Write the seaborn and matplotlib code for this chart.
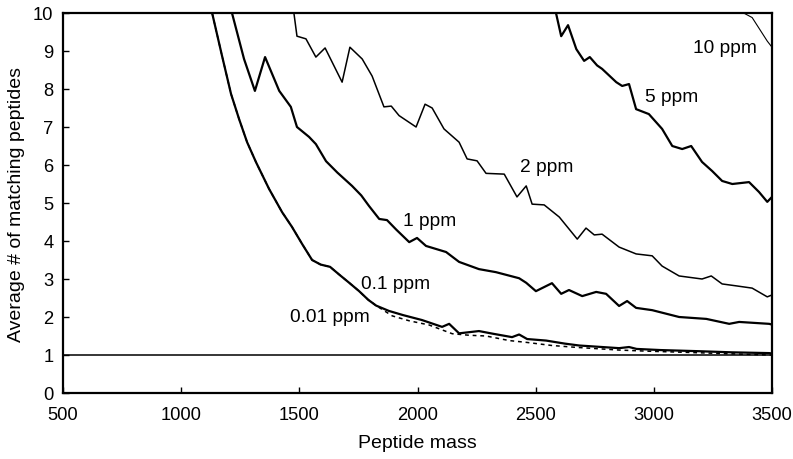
import matplotlib
matplotlib.use("Agg")
import matplotlib.pyplot as plt
import seaborn as sns
import pandas as pd

# ---- data ----
mass_01 = [1131, 1173, 1211, 1245, 1279, 1317, 1372, 1427, 1469, 1512, 1554, 1590, 1630, 1668, 1711,
           1753, 1792, 1825, 1879, 1939, 2019, 2104, 2134, 2176, 2260, 2319, 2400, 2430, 2464, 2544,
           2623, 2684, 2853, 2895, 2927, 3028, 3191, 3332, 3488, 3500]
avg_01 = [10, 8.87, 7.87, 7.21, 6.6, 6.07, 5.37, 4.76, 4.37, 3.92, 3.5, 3.38, 3.32, 3.12, 2.9,
          2.68, 2.45, 2.3, 2.16, 2.05, 1.92, 1.74, 1.82, 1.57, 1.63, 1.56, 1.47, 1.54, 1.42, 1.38,
          1.3, 1.25, 1.18, 1.21, 1.16, 1.13, 1.1, 1.07, 1.05, 1.04]

mass_001 = [1131, 1173, 1211, 1245, 1279, 1317, 1372, 1427, 1469, 1512, 1554, 1590, 1630, 1668, 1711,
            1753, 1792, 1825, 1893, 1965, 2049, 2147, 2218, 2290, 2388, 2464, 2569, 2674, 2853, 2977,
            3136, 3332, 3488, 3500]
avg_001 = [10, 8.87, 7.87, 7.21, 6.6, 6.07, 5.37, 4.76, 4.37, 3.92, 3.5, 3.38, 3.32, 3.12, 2.9,
           2.68, 2.45, 2.3, 2.03, 1.9, 1.79, 1.56, 1.52, 1.5, 1.38, 1.33, 1.25, 1.2, 1.13, 1.1,
           1.07, 1.03, 1.0, 1.0]

mass_1 = [1215, 1266, 1312, 1355, 1415, 1464, 1490, 1541, 1570, 1613, 1661, 1723, 1762, 1795, 1838,
          1871, 1910, 1965, 1998, 2036, 2121, 2176, 2260, 2332, 2430, 2460, 2501, 2569, 2608, 2641,
          2697, 2756, 2798, 2853, 2887, 2925, 2993, 3107, 3222, 3319, 3361, 3488, 3500]
avg_1 = [10, 8.79, 7.95, 8.84, 7.95, 7.53, 7.0, 6.74, 6.55, 6.1, 5.8, 5.45, 5.2, 4.92, 4.58,
         4.55, 4.3, 3.97, 4.08, 3.87, 3.71, 3.45, 3.26, 3.18, 3.02, 2.9, 2.68, 2.89, 2.61, 2.71,
         2.55, 2.66, 2.61, 2.29, 2.42, 2.24, 2.18, 2.0, 1.95, 1.82, 1.87, 1.82, 1.8]

mass_2 = [1477, 1490, 1528, 1570, 1609, 1681, 1714, 1766, 1808, 1858, 1889, 1922, 1994, 2032, 2062,
          2112, 2176, 2210, 2252, 2290, 2367, 2421, 2460, 2485, 2536, 2600, 2676, 2713, 2748, 2781,
          2853, 2925, 2993, 3035, 3107, 3204, 3243, 3289, 3348, 3416, 3480, 3500]
avg_2 = [10, 9.39, 9.32, 8.84, 9.08, 8.18, 9.1, 8.79, 8.34, 7.53, 7.55, 7.3, 7.0, 7.6, 7.5,
         6.95, 6.6, 6.16, 6.11, 5.78, 5.76, 5.16, 5.45, 4.97, 4.95, 4.63, 4.05, 4.34, 4.16, 4.18,
         3.84, 3.66, 3.61, 3.34, 3.08, 3.0, 3.08, 2.87, 2.82, 2.76, 2.53, 2.58]

mass_5 = [2586, 2608, 2637, 2672, 2705, 2729, 2760, 2781, 2841, 2866, 2895, 2925, 2979, 3035, 3078,
          3120, 3158, 3204, 3247, 3289, 3332, 3403, 3445, 3480, 3500]
avg_5 = [10, 9.39, 9.68, 9.05, 8.74, 8.84, 8.62, 8.53, 8.18, 8.08, 8.13, 7.47, 7.34, 6.95, 6.5,
         6.42, 6.5, 6.08, 5.84, 5.58, 5.5, 5.55, 5.29, 5.03, 5.16]

mass_10 = [3380, 3416, 3480, 3500]
avg_10 = [10, 9.88, 9.26, 9.1]

labels = ["0.01 ppm", "0.1 ppm", "1 ppm", "2 ppm", "5 ppm", "10 ppm"]
x_ticks = [500, 1000, 1500, 2000, 2500, 3000, 3500]
y_ticks = list(range(0, 11))

# ---- plotting ----
sns.set_theme(style="ticks")
plt.rcParams["font.family"] = ["Liberation Sans", "DejaVu Sans"]
plt.rcParams["text.color"] = "black"
plt.rcParams["axes.labelcolor"] = "black"
plt.rcParams["xtick.color"] = "black"
plt.rcParams["ytick.color"] = "black"

fig = plt.figure(figsize=(7.93, 4.60), dpi=100)
ax = fig.add_axes([63 / 793, 1 - 394 / 460, (772 - 63) / 793, (394 - 14) / 460])

series = [
    (mass_01, avg_01, 1.6),
    (mass_1, avg_1, 1.6),
    (mass_2, avg_2, 1.1),
    (mass_5, avg_5, 1.6),
    (mass_10, avg_10, 0.8),
]
for xs, ys, lw in series:
    df = pd.DataFrame({"mass": xs, "avg": ys})
    sns.lineplot(data=df, x="mass", y="avg", ax=ax, color="black", sort=False,
                 estimator=None, linewidth=lw)

df001 = pd.DataFrame({"mass": mass_001, "avg": avg_001})
sns.lineplot(data=df001, x="mass", y="avg", ax=ax, color="black", sort=False,
             estimator=None, linewidth=1.1)
ax.lines[-1].set_linestyle((0, (2.5, 2.5)))

ax.axhline(1, color="black", lw=1.1)

ax.set_xlim(500, 3500)
ax.set_ylim(0, 10)
ax.set_xticks(x_ticks)
ax.set_yticks(y_ticks)
ax.tick_params(direction="in", length=4, width=1, labelsize=13.2, colors="black", pad=7)
ax.tick_params(axis="x", pad=9)
for s in ax.spines.values():
    s.set_visible(True)
    s.set_linewidth(1.6)
    s.set_color("black")

ax.set_xlabel("Peptide mass", fontsize=14, labelpad=8)
ax.set_ylabel("Average # of matching peptides", fontsize=14, labelpad=6)

# curve labels
fs = 13.8
ax.text(3164, 9.08, labels[5], fontsize=fs, ha="left", va="center")
ax.text(2961, 7.79, labels[4], fontsize=fs, ha="left", va="center")
ax.text(2432, 5.97, labels[3], fontsize=fs, ha="left", va="center")
ax.text(1937, 4.53, labels[2], fontsize=fs, ha="left", va="center")
ax.text(1763, 2.87, labels[1], fontsize=fs, ha="left", va="center")
ax.text(1459, 2.0, labels[0], fontsize=fs, ha="left", va="center")

fig.savefig("out.png", dpi=100)
